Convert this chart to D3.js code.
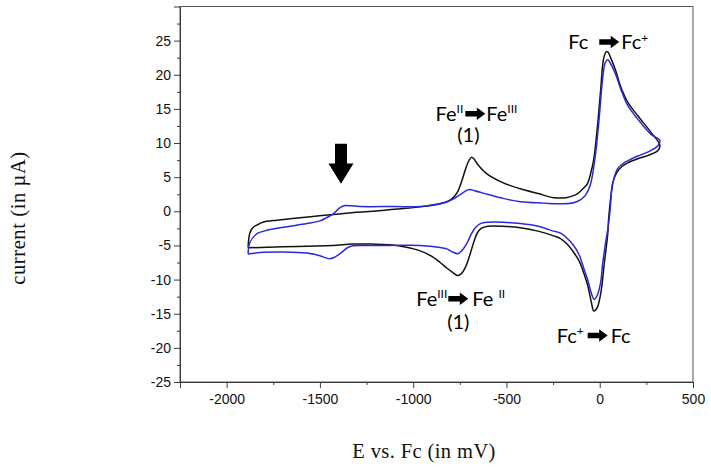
<!DOCTYPE html>
<html><head><meta charset="utf-8">
<script src="https://cdn.jsdelivr.net/npm/d3@7"></script>
<style>body{margin:0;background:#fff} svg{display:block}</style>
</head><body><svg id="c" width="711" height="469"></svg>
<script>
// ---- data ----
const xMajorTicks = [-2000, -1500, -1000, -500, 0, 500];
const xMinorTicks = [-1750, -1250, -750, -250, 250];
const yMajorTicks = [-25, -20, -15, -10, -5, 0, 5, 10, 15, 20, 25];
const yMinorTicks = [-22.5, -17.5, -12.5, -7.5, -2.5, 2.5, 7.5, 12.5, 17.5, 22.5, 27.5];

// black scan: [E (mV), I (µA)], anodic branch then cathodic branch
const scanBlack = [
  [-1885,-5.3],[-1876,-3.2],[-1860,-2.4],[-1830,-1.9],[-1806,-1.6],[-1730,-1.3],[-1661,-1.1],
  [-1550,-0.8],[-1446,-0.5],[-1330,-0.2],[-1215,0.0],[-1100,0.3],[-962,0.65],[-880,1.0],
  [-817,1.4],[-785,2.0],[-763,2.8],[-740,4.4],[-718,6.3],[-700,7.5],[-688,7.9],[-675,7.7],
  [-655,6.9],[-610,5.6],[-520,4.2],[-425,3.3],[-330,2.6],[-247,2.0],[-180,2.0],[-140,2.3],
  [-118,2.6],[-86,3.4],[-65,4.1],[-49,5.5],[-32,7.6],[-11,12.8],[5,17.8],[21,22.4],[35,23.4],
  [45,23.3],[60,22.4],[86,20.6],[113,18.2],[150,16.0],[204,14.0],[274,11.6],[322,9.7],
  [312,8.9],[260,8.2],[204,7.7],[150,7.1],[120,6.6],[90,5.6],[70,4.2],[59,2.0],[48,-1.0],
  [43,-3.3],[25,-7.5],[5,-12.1],[-15,-14.2],[-32,-14.6],[-45,-13.3],[-65,-10.8],[-86,-9.0],
  [-110,-7.3],[-140,-6.0],[-175,-4.8],[-210,-4.0],[-247,-3.6],[-330,-2.9],[-425,-2.4],
  [-520,-2.2],[-600,-2.2],[-635,-2.5],[-655,-3.1],[-675,-4.5],[-694,-6.2],[-720,-8.2],
  [-745,-9.2],[-763,-9.4],[-785,-9.0],[-820,-8.3],[-855,-7.5],[-900,-6.6],[-962,-5.8],
  [-1050,-5.2],[-1124,-4.9],[-1215,-4.8],[-1323,-4.8],[-1430,-5.0],[-1570,-5.1],[-1700,-5.2],
  [-1885,-5.35]
];

// blue scan
const scanBlue = [
  [-1885,-6.25],[-1876,-4.6],[-1839,-3.3],[-1800,-2.9],[-1753,-2.6],[-1660,-2.2],[-1570,-1.8],
  [-1500,-1.4],[-1462,-0.9],[-1430,-0.4],[-1410,0.1],[-1392,0.55],[-1365,0.85],[-1330,0.8],
  [-1285,0.7],[-1100,0.7],[-962,0.7],[-855,1.1],[-785,1.8],[-740,2.6],[-710,3.1],[-694,3.2],
  [-670,3.0],[-602,2.5],[-520,1.9],[-425,1.4],[-300,1.2],[-210,1.1],[-140,1.25],[-102,1.7],
  [-75,2.4],[-49,4.0],[-22,8.5],[-5,13.0],[16,19.5],[30,21.8],[43,22.2],[55,21.8],[86,20.0],
  [113,17.9],[150,15.5],[204,13.5],[274,11.3],[322,10.4],
  [312,9.6],[260,8.7],[204,8.1],[150,7.4],[125,7.0],[97,6.3],[78,5.0],[64,3.0],[55,0.0],
  [45,-2.3],[32,-4.5],[15,-7.8],[5,-10.4],[-15,-12.4],[-30,-12.9],[-45,-12.0],[-65,-10.0],
  [-86,-8.3],[-110,-6.4],[-140,-5.0],[-210,-3.2],[-247,-2.9],[-330,-2.2],[-425,-1.8],
  [-520,-1.6],[-600,-1.6],[-640,-1.8],[-667,-2.4],[-690,-3.4],[-710,-4.6],[-740,-5.8],
  [-763,-6.2],[-785,-6.0],[-820,-5.5],[-855,-5.3],[-962,-5.0],[-1124,-5.0],[-1247,-5.0],
  [-1323,-5.05],[-1350,-5.3],[-1392,-6.2],[-1420,-6.7],[-1446,-6.95],[-1475,-6.75],
  [-1500,-6.5],[-1570,-6.1],[-1700,-5.95],[-1800,-6.0],[-1885,-6.25]
];

// ---- layout ----
const svg = d3.select("#c");
const x = d3.scaleLinear().domain([-2250, 500]).range([180, 693]);
const y = d3.scaleLinear().domain([-25, 30]).range([382, 6.5]);
const axisColor = "#3a3a3a";

// frame (top / right)
svg.append("rect").attr("x", x.range()[0]).attr("y", y.range()[1])
  .attr("width", x.range()[1] - x.range()[0]).attr("height", y.range()[0] - y.range()[1])
  .attr("fill", "none").attr("stroke", "#555").attr("stroke-width", 1);

svg.append("defs").append("clipPath").attr("id", "clip").append("rect")
  .attr("x", x.range()[0]).attr("y", y.range()[1])
  .attr("width", x.range()[1] - x.range()[0]).attr("height", y.range()[0] - y.range()[1]);

const tickFont = "'Liberation Sans', Arial, sans-serif";
function styleAxis(g) {
  g.selectAll("path.domain").attr("stroke", axisColor).attr("stroke-width", 1);
  g.selectAll(".tick line").attr("stroke", axisColor);
  g.selectAll("text").attr("fill", "#111").style("font-family", tickFont).style("font-size", "14px");
}
// x axis
const gx = svg.append("g").attr("transform", `translate(0,${y.range()[0]})`)
  .call(d3.axisBottom(x).tickValues(xMajorTicks).tickSize(6).tickPadding(6).tickFormat(d => String(d)));
styleAxis(gx);
const gxm = svg.append("g").attr("transform", `translate(0,${y.range()[0]})`)
  .call(d3.axisBottom(x).tickValues(xMinorTicks).tickSize(3).tickFormat(""));
styleAxis(gxm); gxm.select("path.domain").remove();
// y axis
const gy = svg.append("g").attr("transform", `translate(${x.range()[0]},0)`)
  .call(d3.axisLeft(y).tickValues(yMajorTicks).tickSize(6).tickPadding(3).tickFormat(d => String(d)));
styleAxis(gy);
const gym = svg.append("g").attr("transform", `translate(${x.range()[0]},0)`)
  .call(d3.axisLeft(y).tickValues(yMinorTicks).tickSize(3).tickFormat(""));
styleAxis(gym); gym.select("path.domain").remove();

// curves
const line = d3.line().x(d => x(d[0])).y(d => y(d[1])).curve(d3.curveCatmullRom.alpha(0.5));
const plot = svg.append("g").attr("clip-path", "url(#clip)");
plot.append("path").datum(scanBlack).attr("d", line).attr("fill", "none")
  .attr("stroke", "#111").attr("stroke-width", 1.5).attr("stroke-linejoin", "round");
plot.append("path").datum(scanBlue).attr("d", line).attr("fill", "none")
  .attr("stroke", "#2a2ad6").attr("stroke-width", 1.5).attr("stroke-linejoin", "round");

// axis titles
const serif = "'Liberation Serif', 'Times New Roman', serif";
svg.append("text").attr("x", 424).attr("y", 458).attr("text-anchor", "middle")
  .style("font-family", serif).style("font-size", "20.5px").attr("fill", "#111")
  .style("letter-spacing", "0.4px").text("E vs. Fc (in mV)");
svg.append("text").attr("transform", "translate(25,218) rotate(-90)").attr("text-anchor", "middle")
  .style("font-family", serif).style("font-size", "20.5px").attr("fill", "#111")
  .style("letter-spacing", "0.6px").text("current (in µA)");

// annotations
const annFont = "Lato, 'Open Sans', sans-serif";
function blockArrow(g, cx, cy, len) {
  const h = len / 2;
  const p = d3.path();
  p.moveTo(cx - h, cy - 2.8); p.lineTo(cx + h - 8.5, cy - 2.8); p.lineTo(cx + h - 8.5, cy - 6.2);
  p.lineTo(cx + h, cy); p.lineTo(cx + h - 8.5, cy + 6.2); p.lineTo(cx + h - 8.5, cy + 2.8);
  p.lineTo(cx - h, cy + 2.8); p.closePath();
  g.append("path").attr("d", p.toString()).attr("fill", "#000");
}
function richText(g, px, py, anchor, parts) {
  const t = g.append("text").attr("x", px).attr("y", py).attr("text-anchor", anchor)
    .style("font-family", annFont).style("font-size", "20px").attr("fill", "#000");
  let raised = false;
  parts.forEach(([s, sup]) => {
    const ts = t.append("tspan").text(s);
    if (sup && !raised) { ts.attr("dy", -7.5).style("font-size", "12px"); raised = true; }
    else if (!sup && raised) { ts.attr("dy", 7.5); raised = false; }
  });
  return t;
}
const reactions = [
  { e: 51, i: 24.8, left: [["Fc", false]], right: [["Fc", false], ["+", true]], gapL: 11, gapR: 2, sub: null },
  { e: -667, i: 14.3, left: [["Fe", false], ["II", true]], right: [["Fe", false], ["III", true]], gapL: 2, gapR: 1, sub: [-704, 10.2] },
  { e: -758, i: -12.8, left: [["Fe", false], ["III", true]], right: [["Fe ", false], ["II", true]], gapL: 1, gapR: 4, sub: [-758, -17.2] },
  { e: -11, i: -18.2, left: [["Fc", false], ["+", true]], right: [["Fc", false]], gapL: 4, gapR: 3, sub: null }
];
const ann = svg.append("g");
reactions.forEach(r => {
  const cx = x(r.e), cy = y(r.i);
  blockArrow(ann, cx, cy, 20);
  richText(ann, cx - 10 - r.gapL, cy + 7, "end", r.left);
  richText(ann, cx + 10 + r.gapR, cy + 7, "start", r.right);
  if (r.sub) richText(ann, x(r.sub[0]), y(r.sub[1]), "middle", [["(1)", false]]);
});

// big down arrow marking the new feature
const bigArrow = { e: -1387, top: 9.9, neck: 7.0, tip: 4.05 };
const ax = x(bigArrow.e);
const bp = d3.path();
bp.moveTo(ax - 6, y(bigArrow.top)); bp.lineTo(ax + 6, y(bigArrow.top)); bp.lineTo(ax + 6, y(bigArrow.neck));
bp.lineTo(ax + 12.5, y(bigArrow.neck)); bp.lineTo(ax, y(bigArrow.tip)); bp.lineTo(ax - 12.5, y(bigArrow.neck));
bp.lineTo(ax - 6, y(bigArrow.neck)); bp.closePath();
svg.append("path").attr("d", bp.toString()).attr("fill", "#000");
</script></body></html>
